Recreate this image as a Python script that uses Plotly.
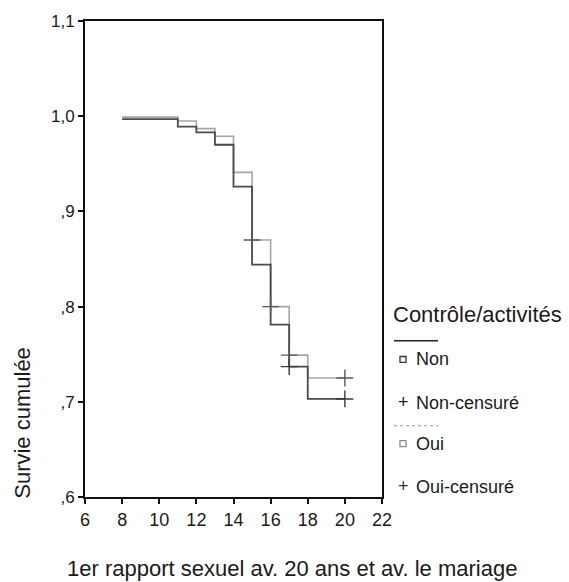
import plotly.graph_objects as go

# Kaplan-Meier survival estimates by group (step functions)
times = [8, 11, 12, 13, 14, 15, 16, 17, 18, 20]
surv_non = [0.997, 0.989, 0.983, 0.970, 0.926, 0.844, 0.781, 0.737, 0.703, 0.703]
surv_oui = [0.999, 0.995, 0.987, 0.979, 0.941, 0.870, 0.800, 0.749, 0.725, 0.725]

# Censored observations
cens_non_x = [17, 20]
cens_non_y = [0.737, 0.703]
cens_oui_x = [15, 16, 17, 20]
cens_oui_y = [0.870, 0.800, 0.749, 0.725]

x_ticks = [6, 8, 10, 12, 14, 16, 18, 20, 22]
y_ticks = [0.6, 0.7, 0.8, 0.9, 1.0, 1.1]
y_ticktext = [",6", ",7", ",8", ",9", "1,0", "1,1"]

FONT = "Liberation Sans, Arial, Helvetica, sans-serif"
DARK = "#4a4a4a"
LIGHT = "#a6a6a6"

W, H = 569, 582
L, R, T, B = 85, 382, 16, 497  # plot area in pixels


def px(x):
    return (x - L) / (R - L)


def py(y):
    return (B - y) / (B - T)


fig = go.Figure()

fig.add_trace(go.Scatter(x=times, y=surv_oui, mode="lines", line_shape="hv",
                         line=dict(color=LIGHT, width=1.6), name="Oui",
                         showlegend=False))
fig.add_trace(go.Scatter(x=times, y=surv_non, mode="lines", line_shape="hv",
                         line=dict(color=DARK, width=1.8), name="Non",
                         showlegend=False))
fig.add_trace(go.Scatter(x=cens_oui_x, y=cens_oui_y, mode="markers",
                         marker=dict(symbol="cross-thin", size=12,
                                     line=dict(color="#5a5a5a", width=1.4)),
                         name="Oui-censuré", showlegend=False))
fig.add_trace(go.Scatter(x=cens_non_x, y=cens_non_y, mode="markers",
                         marker=dict(symbol="cross-thin", size=12,
                                     line=dict(color="#3a3a3a", width=1.4)),
                         name="Non-censuré", showlegend=False))

annotations = []
shapes = []

# Axis titles
annotations.append(dict(text="1er rapport sexuel av. 20 ans et av. le mariage",
                        xref="paper", yref="paper", x=px(292), y=py(569),
                        xanchor="center", yanchor="middle", showarrow=False,
                        font=dict(family=FONT, size=22, color="#1a1a1a")))
annotations.append(dict(text="Survie cumulée", textangle=-90,
                        xref="paper", yref="paper", x=px(23), y=py(422),
                        xanchor="center", yanchor="middle", showarrow=False,
                        font=dict(family=FONT, size=22, color="#1a1a1a")))

# Legend block
annotations.append(dict(text="Contrôle/activités", xref="paper", yref="paper",
                        x=px(391), y=py(313), xanchor="left", yanchor="middle",
                        showarrow=False,
                        font=dict(family=FONT, size=22, color="#1a1a1a")))
shapes.append(dict(type="line", xref="paper", yref="paper",
                   x0=px(394), x1=px(438), y0=py(339), y1=py(339),
                   line=dict(color="#222222", width=1.5)))
shapes.append(dict(type="line", xref="paper", yref="paper",
                   x0=px(394), x1=px(438), y0=py(425), y1=py(425),
                   line=dict(color="#9a9a9a", width=1.2, dash="dot")))

legend_rows = [("Non", 358, "square", "#333333"),
               ("Non-censuré", 402, "plus", "#222222"),
               ("Oui", 443, "square", "#8a8a8a"),
               ("Oui-censuré", 487, "plus", "#333333")]
for label, ypix, kind, col in legend_rows:
    if kind == "square":
        shapes.append(dict(type="rect", xref="paper", yref="paper",
                           x0=px(400), x1=px(406), y0=py(ypix + 3), y1=py(ypix - 3),
                           line=dict(color=col, width=1.3)))
    else:
        annotations.append(dict(text="+", xref="paper", yref="paper",
                                x=px(403), y=py(ypix - 1), xanchor="center",
                                yanchor="middle", showarrow=False,
                                font=dict(family=FONT, size=18, color=col)))
    annotations.append(dict(text=label, xref="paper", yref="paper",
                            x=px(414), y=py(ypix), xanchor="left",
                            yanchor="middle", showarrow=False,
                            font=dict(family=FONT, size=18, color="#1a1a1a")))

fig.update_layout(
    width=W, height=H,
    margin=dict(l=L, r=W - R, t=T, b=H - B, pad=0),
    paper_bgcolor="white", plot_bgcolor="white",
    showlegend=False,
    annotations=annotations,
    shapes=shapes,
    font=dict(family=FONT, color="#1a1a1a"),
)
fig.update_xaxes(range=[6, 22], tickvals=x_ticks, ticks="outside", ticklen=5,
                 tickwidth=1.5, tickcolor="#111111", showgrid=False,
                 zeroline=False, showline=True, linecolor="#111111",
                 linewidth=2, mirror=True,
                 tickfont=dict(family=FONT, size=18, color="#1a1a1a"))
fig.update_yaxes(range=[0.6, 1.1], tickvals=y_ticks, ticktext=y_ticktext,
                 ticks="outside", ticklen=5, tickwidth=1.5,
                 tickcolor="#111111", showgrid=False, zeroline=False,
                 showline=True, linecolor="#111111", linewidth=2, mirror=True,
                 tickfont=dict(family=FONT, size=17, color="#1a1a1a"))

fig.write_html("out.html")
